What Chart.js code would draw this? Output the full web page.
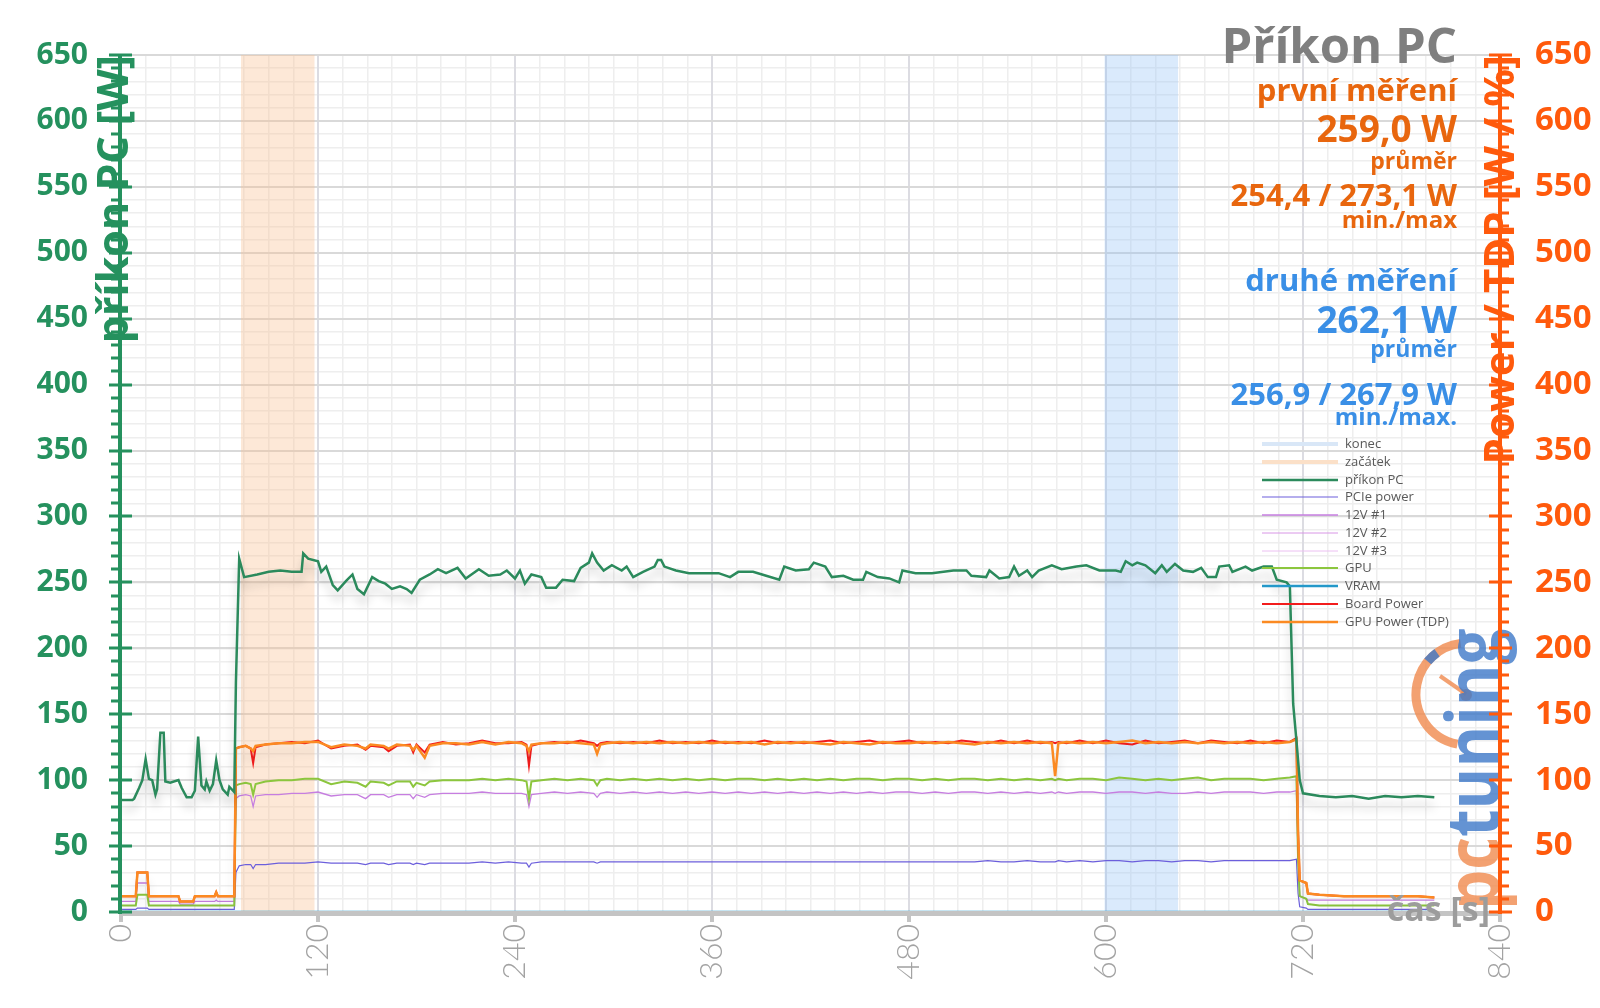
<!DOCTYPE html>
<html>
<head>
<meta charset="utf-8">
<script src="https://cdn.jsdelivr.net/npm/chart.js@4/dist/chart.umd.min.js"></script>
<style>
    html, body { margin: 0; padding: 0; background: #fff; }
    #wrap { width: 1600px; height: 1008px; }
</style>
</head>
<body>
<div id="wrap"><canvas id="powerChart" width="1600" height="1008"></canvas></div>
<script>
// Příkon PC – measured power draw over time (seconds)

// ---------------------------
// Data: příkon PC (wall power)
// ---------------------------
const pcTime = [
    0, 7, 8, 11, 13, 15, 17, 19, 21, 22,
    24, 26, 27, 30, 35, 37, 40, 43, 45, 47,
    49, 51, 52, 54, 56, 58, 60, 62, 65, 66,
    69, 70, 72, 75, 83, 90, 97, 104, 110, 111,
    114, 120, 122, 125, 129, 132, 137, 141, 144, 148,
    153, 157, 161, 165, 170, 174, 177, 182, 188, 193,
    198, 205, 210, 218, 224, 231, 235, 240, 243, 246,
    250, 256, 259, 265, 269, 276, 280, 285, 287, 290,
    294, 299, 305, 308, 312, 318, 325, 327, 329, 331,
    338, 346, 354, 364, 371, 376, 385, 393, 401, 404,
    411, 419, 422, 429, 433, 440, 446, 452, 454, 461,
    468, 474, 476, 484, 494, 507, 515, 518, 527, 529,
    535, 541, 544, 547, 552, 555, 559, 567, 573, 582,
    588, 596, 606, 609, 612, 616, 619, 624, 630, 634,
    637, 642, 647, 653, 658, 662, 667, 669, 675, 677,
    685, 689, 696, 701, 704, 710, 712, 714, 716, 718,
    720, 730, 740, 750, 760, 770, 780, 790, 800
];
const pcWatts = [
    85, 85, 86, 94, 100, 116, 101, 100, 89, 93,
    136, 136, 99, 98, 100, 94, 87, 87, 92, 133,
    96, 93, 99, 92, 97, 115, 100, 93, 89, 95,
    91, 174, 268, 254, 256, 258, 259, 258, 258, 272,
    268, 266, 258, 262, 248, 244, 251, 256, 245, 241,
    254, 251, 249, 245, 247, 245, 242, 252, 256, 260,
    257, 261, 253, 260, 255, 256, 259, 253, 259, 249,
    256, 254, 246, 246, 252, 251, 261, 265, 272, 265,
    259, 263, 259, 262, 254, 258, 262, 267, 267, 262,
    259, 257, 257, 257, 254, 258, 258, 255, 252, 262,
    259, 260, 265, 262, 254, 255, 252, 252, 258, 254,
    253, 250, 259, 257, 257, 259, 259, 255, 254, 259,
    253, 254, 262, 255, 259, 254, 259, 263, 260, 262,
    263, 259, 259, 258, 266, 263, 265, 263, 257, 263,
    258, 264, 259, 258, 261, 254, 254, 262, 263, 258,
    262, 259, 262, 262, 252, 250, 247, 158, 130, 100,
    90, 88, 87, 88, 86, 88, 87, 88, 87
];

// ---------------------------
// Data: graphics card sensors (shared time axis)
// ---------------------------
const gpuTime = [
    0, 4, 9, 10, 16, 17, 22, 30, 35, 36,
    44, 45, 50, 57, 58, 59, 64, 69, 70, 72,
    76, 79, 80.5, 82, 88, 96, 104, 112, 120, 128,
    136, 144, 149, 152, 160, 163, 168, 176, 178, 180,
    185, 188, 196, 204, 212, 220, 228, 236, 244, 247,
    248.5, 250, 256, 264, 272, 280, 288, 290, 292, 296,
    304, 312, 320, 328, 336, 344, 352, 360, 368, 376,
    384, 392, 400, 408, 416, 424, 432, 440, 448, 456,
    464, 472, 480, 488, 496, 504, 512, 520, 528, 536,
    544, 552, 560, 567, 569, 571, 576, 584, 592, 600,
    608, 616, 624, 632, 640, 648, 656, 664, 672, 680,
    688, 696, 704, 712, 716, 717, 718, 722, 723, 730,
    745, 760, 775, 790, 800
];
const tdpWatts = [
    12, 12, 12, 30, 30, 12, 12, 12, 12, 8,
    8, 12, 12, 12, 15, 12, 12, 12, 124, 125,
    126, 124, 122, 126, 127, 128, 128, 129, 129, 125,
    127, 126, 124, 127, 126, 124, 127, 126, 123, 126,
    117, 126, 128, 128, 127, 129, 127, 129, 128, 126,
    122, 127, 128, 128, 129, 128, 127, 120, 127, 128,
    129, 128, 129, 128, 129, 128, 129, 128, 129, 128,
    129, 127, 129, 128, 129, 128, 127, 129, 128, 127,
    129, 128, 128, 129, 128, 129, 128, 127, 129, 128,
    129, 128, 129, 128, 103, 128, 129, 128, 129, 128,
    129, 130, 128, 129, 128, 129, 128, 129, 128, 129,
    128, 129, 128, 129, 131, 60, 24, 22, 14, 13,
    12, 12, 12, 12, 11
];
const boardWatts = [
    12, 12, 12, 30, 30, 12, 12, 12, 12, 8,
    8, 12, 12, 12, 15, 12, 12, 12, 124, 125,
    126, 124, 113, 125, 127, 128, 129, 128, 130, 124,
    126, 127, 123, 126, 125, 122, 126, 127, 121, 127,
    121, 127, 129, 127, 128, 130, 128, 128, 129, 127,
    111, 126, 128, 129, 128, 130, 128, 126, 128, 129,
    128, 129, 128, 130, 128, 129, 128, 130, 128, 129,
    128, 130, 128, 129, 128, 129, 130, 128, 129, 130,
    128, 129, 130, 128, 129, 128, 130, 129, 128, 130,
    128, 130, 128, 129, 128, 129, 128, 130, 128, 130,
    128, 127, 130, 128, 129, 130, 128, 130, 129, 128,
    130, 128, 130, 129, 132, 60, 24, 22, 14, 13,
    12, 12, 12, 12, 11
];
const gpuCoreWatts = [
    5, 5, 5, 13, 13, 5, 5, 5, 5, 5,
    5, 5, 5, 5, 5, 5, 5, 5, 96, 97,
    98, 97, 89, 97, 99, 100, 100, 101, 101, 97,
    99, 98, 95, 99, 98, 96, 99, 99, 95, 98,
    96, 99, 100, 100, 100, 101, 100, 101, 100, 99,
    86, 99, 100, 101, 100, 101, 100, 96, 100, 101,
    100, 101, 100, 101, 100, 101, 100, 101, 100, 101,
    101, 100, 101, 100, 101, 100, 101, 100, 101, 101,
    100, 101, 101, 100, 101, 100, 101, 101, 100, 101,
    100, 101, 100, 101, 100, 101, 100, 101, 101, 100,
    102, 101, 100, 101, 100, 101, 102, 100, 101, 101,
    101, 100, 101, 102, 103, 40, 12, 10, 6, 5,
    5, 5, 5, 5, 5
];
const rail1Watts = [
    8, 8, 8, 22, 22, 8, 8, 8, 8, 6,
    6, 8, 8, 8, 9, 8, 8, 8, 86, 88,
    89, 88, 80, 88, 89, 89, 90, 90, 91, 88,
    89, 89, 86, 89, 89, 87, 89, 89, 86, 89,
    87, 89, 90, 90, 90, 91, 90, 90, 90, 89,
    80, 89, 90, 91, 90, 91, 90, 87, 90, 91,
    90, 91, 90, 91, 90, 91, 90, 91, 90, 91,
    90, 91, 90, 91, 90, 91, 90, 91, 90, 91,
    90, 91, 91, 90, 91, 90, 91, 91, 90, 91,
    90, 91, 90, 91, 90, 91, 90, 91, 91, 90,
    91, 91, 90, 91, 90, 90, 91, 90, 91, 91,
    91, 90, 91, 91, 92, 40, 12, 10, 9, 9,
    9, 9, 9, 9, 9
];
const pcieWatts = [
    2, 2, 2, 3, 3, 2, 2, 2, 2, 2,
    2, 2, 2, 2, 2, 2, 2, 2, 30, 35,
    36, 36, 33, 36, 36, 37, 37, 37, 38, 37,
    37, 37, 36, 37, 37, 36, 37, 37, 36, 37,
    36, 37, 37, 37, 37, 38, 37, 38, 37, 37,
    34, 37, 38, 38, 38, 38, 38, 37, 38, 38,
    38, 38, 38, 38, 38, 38, 38, 38, 38, 38,
    38, 38, 38, 38, 38, 38, 38, 38, 38, 38,
    38, 38, 38, 38, 38, 38, 38, 38, 39, 38,
    38, 39, 38, 38, 38, 39, 38, 39, 38, 39,
    39, 38, 39, 39, 38, 39, 39, 38, 39, 39,
    39, 39, 39, 39, 40, 14, 4, 3, 2, 2,
    2, 2, 2, 2, 2
];
// unused rails stay at zero
const flatTime = [0, 800];
const rail2Watts = [0, 0];
const rail3Watts = [0, 0];
const vramWatts = [0, 0];

// measurement windows (začátek / konec)
const startWindow = [73, 118];
const endWindow = [599, 644];
const windowTop = [650, 650];

// axis ticks
const xTicks = [0, 120, 240, 360, 480, 600, 720, 840];

// summary figures
const firstAvg = '259,0 W';
const firstMinMax = '254,4 / 273,1 W';
const secondAvg = '262,1 W';
const secondMinMax = '256,9 / 267,9 W';

const legendOrder = ['konec', 'začátek', 'příkon PC', 'PCIe power', '12V #1', '12V #2', '12V #3', 'GPU', 'VRAM', 'Board Power', 'GPU Power (TDP)'];

const GREEN = '#25915e';
const ORANGE = '#ff5a0c';
const FONT = '"Open Sans", Lato, sans-serif';
const TICK_FONT = 'Lato, "Open Sans", sans-serif';

function points(times, values) {
    return times.map((t, i) => ({ x: t, y: values[i] }));
}

function series(label, times, values, color, width, extra) {
    return Object.assign({
        label: label,
        data: points(times, values),
        borderColor: color,
        backgroundColor: color,
        borderWidth: width,
        pointRadius: 0,
        tension: 0,
        fill: false,
        yAxisID: 'y'
    }, extra || {});
}

function band(label, times, fillColor, legendColor) {
    return {
        label: label,
        data: points(times, windowTop),
        borderWidth: 0,
        borderColor: 'rgba(0,0,0,0)',
        backgroundColor: fillColor,
        pointRadius: 0,
        fill: 'origin',
        order: 10,
        legendColor: legendColor,
        legendWidth: 4,
        yAxisID: 'y'
    };
}

const datasets = [
    series('příkon PC', pcTime, pcWatts, '#2b8a5c', 2.5, { shadow: 'rgba(0,0,0,0.22)' }),
    series('GPU Power (TDP)', gpuTime, tdpWatts, '#fb8a22', 2.5, { yAxisID: 'y2', shadow: 'rgba(0,0,0,0.12)' }),
    series('Board Power', gpuTime, boardWatts, '#f21c1c', 2, { yAxisID: 'y2' }),
    series('GPU', gpuTime, gpuCoreWatts, '#8cc63e', 2, { yAxisID: 'y2' }),
    series('12V #1', gpuTime, rail1Watts, '#c67ee0', 1.3, { yAxisID: 'y2' }),
    series('PCIe power', gpuTime, pcieWatts, '#6c5fdc', 1.2, { yAxisID: 'y2' }),
    series('VRAM', flatTime, vramWatts, '#2398c9', 2.5, { yAxisID: 'y2' }),
    series('12V #2', flatTime, rail2Watts, '#d896e6', 1, { yAxisID: 'y2' }),
    series('12V #3', flatTime, rail3Watts, '#ecc0f2', 1, { yAxisID: 'y2' }),
    band('začátek', startWindow, 'rgba(250,190,140,0.35)', '#fbe0c8'),
    band('konec', endWindow, 'rgba(150,195,245,0.35)', '#d9e7f7')
];

// ---------------------------
// Plugin: soft shadow under selected lines
// ---------------------------
const lineShadow = {
    id: 'lineShadow',
    beforeDatasetDraw(chart, args) {
        const ds = chart.data.datasets[args.index];
        if (!ds.shadow) return;
        const c = chart.ctx;
        c.save();
        c.shadowColor = ds.shadow;
        c.shadowBlur = 10;
        c.shadowOffsetY = 9;
    },
    afterDatasetDraw(chart, args) {
        if (chart.data.datasets[args.index].shadow) chart.ctx.restore();
    }
};

// ruler-like axis with major and minor marks
function drawRuler(ctx, scale, x, dir, color) {
    ctx.fillStyle = color;
    ctx.fillRect(x - 2, scale.top, 4, scale.bottom - scale.top + 2);
    scale.ticks.forEach(t => {
        const y = Math.round(scale.getPixelForValue(t.value));
        if (t.value % 50 === 0) {
            ctx.fillRect(x - 11, y - 1.5, 23, 3);
        } else {
            ctx.fillRect(dir < 0 ? x - 9 : x, y - 1.5, 9, 3);
        }
    });
}

function verticalText(ctx, text, x, y, color, font) {
    ctx.save();
    ctx.translate(x, y);
    ctx.rotate(-Math.PI / 2);
    ctx.font = font;
    ctx.fillStyle = color;
    ctx.textAlign = 'right';
    ctx.textBaseline = 'alphabetic';
    ctx.fillText(text, 0, 0);
    ctx.restore();
}

// site watermark in the lower right corner
function drawWatermark(ctx) {
    ctx.save();
    ctx.globalAlpha = 0.8;
    ctx.strokeStyle = '#f08a4e';
    ctx.lineWidth = 9;
    ctx.beginPath();
    ctx.arc(1467, 694, 51, Math.PI * 0.56, Math.PI * 1.46);
    ctx.stroke();
    ctx.strokeStyle = '#3d78c8';
    ctx.beginPath();
    ctx.arc(1467, 694, 51, Math.PI * 1.22, Math.PI * 1.3);
    ctx.stroke();
    ctx.strokeStyle = '#f08a4e';
    ctx.lineWidth = 4;
    ctx.beginPath();
    ctx.moveTo(1440, 676);
    ctx.lineTo(1466, 694);
    ctx.stroke();
    ctx.fillStyle = '#f08a4e';
    ctx.beginPath();
    ctx.arc(1466, 695, 6, 0, Math.PI * 2);
    ctx.fill();

    ctx.translate(1499, 910);
    ctx.rotate(-Math.PI / 2);
    ctx.scale(0.86, 1);
    ctx.font = 'bold 74px ' + FONT;
    ctx.textAlign = 'left';
    ctx.textBaseline = 'alphabetic';
    ctx.fillStyle = '#f08a4e';
    ctx.fillText('pc', 0, 0);
    const w = ctx.measureText('pc').width;
    ctx.fillStyle = '#3d78c8';
    ctx.fillText('tuning', w, 0);
    ctx.restore();
}

// ---------------------------
// Plugin: axes, titles, notes and legend
// ---------------------------
const decorations = {
    id: 'decorations',
    afterDatasetsDraw(chart) {
        const { ctx, chartArea: a, scales } = chart;
        ctx.save();

        drawWatermark(ctx);

        // time axis line with stubs
        ctx.fillStyle = '#c4c4c4';
        ctx.fillRect(a.left - 2, a.bottom - 1, a.right - a.left + 2, 5);
        scales.x.ticks.forEach(t => {
            const px = Math.round(scales.x.getPixelForValue(t.value));
            ctx.fillRect(px - 2, a.bottom, 4, 10);
        });

        drawRuler(ctx, scales.yMinor, a.left - 1, -1, GREEN);
        drawRuler(ctx, scales.yMinor, a.right, 1, ORANGE);

        verticalText(ctx, 'příkon PC [W]', 128, a.top, GREEN, 'bold 43px ' + FONT);
        verticalText(ctx, 'Power / TDP [W / %]', 1514, a.top, ORANGE, 'bold 42px ' + FONT);

        ctx.font = 'bold 34px ' + FONT;
        ctx.fillStyle = '#9c9c9c';
        ctx.textAlign = 'right';
        ctx.textBaseline = 'alphabetic';
        ctx.fillText('čas [s]', 1490, 921);
        ctx.restore();
    },
    afterDraw(chart) {
        const ctx = chart.ctx;
        ctx.save();

        // summary block, right aligned
        const right = 1457;
        const notes = [
            ['Příkon PC', '#7f7f7f', 49, 63],
            ['první měření', '#e8660e', 31, 101],
            [firstAvg, '#e8660e', 37, 142],
            ['průměr', '#e8660e', 23, 169],
            [firstMinMax, '#e8660e', 31, 206],
            ['min./max', '#e8660e', 24, 228],
            ['druhé měření', '#3a8fe6', 31, 291],
            [secondAvg, '#3a8fe6', 37, 333],
            ['průměr', '#3a8fe6', 23, 357],
            [secondMinMax, '#3a8fe6', 31, 405],
            ['min./max.', '#3a8fe6', 24, 425]
        ];
        ctx.textAlign = 'right';
        ctx.textBaseline = 'alphabetic';
        notes.forEach(n => {
            ctx.font = 'bold ' + n[2] + 'px ' + FONT;
            ctx.fillStyle = n[1];
            ctx.fillText(n[0], right, n[3]);
        });

        // legend
        ctx.font = '13px ' + FONT;
        ctx.textAlign = 'left';
        ctx.textBaseline = 'middle';
        legendOrder.forEach((name, i) => {
            const ds = chart.data.datasets.find(d => d.label === name);
            const y = Math.round(444 + i * 17.77);
            ctx.strokeStyle = ds.legendColor || ds.borderColor;
            ctx.lineWidth = ds.legendWidth || Math.max(ds.borderWidth, 1);
            ctx.beginPath();
            ctx.moveTo(1262, y);
            ctx.lineTo(1338, y);
            ctx.stroke();
            ctx.fillStyle = '#595959';
            ctx.fillText(name, 1345, y);
        });
        ctx.restore();
    }
};

const ctx = document.getElementById('powerChart').getContext('2d');

new Chart(ctx, {
    type: 'line',
    data: { datasets: datasets },
    options: {
        responsive: false,
        animation: false,
        devicePixelRatio: 1,
        layout: { padding: { top: 55, right: 0, bottom: 0, left: 0 } },
        plugins: {
            legend: { display: false },
            tooltip: { enabled: false },
            title: { display: false }
        },
        scales: {
            xMinor: {
                type: 'linear', position: 'bottom', min: 0, max: 840,
                ticks: { display: false, stepSize: 15 },
                grid: { color: '#eeeeee', lineWidth: 1.5, drawTicks: false },
                border: { display: false },
                afterFit(s) { s.height = 0; }
            },
            yMinor: {
                type: 'linear', position: 'left', min: 0, max: 650,
                ticks: { display: false, stepSize: 10 },
                grid: { color: '#eeeeee', lineWidth: 1.5, drawTicks: false },
                border: { display: false },
                afterFit(s) { s.width = 0; }
            },
            x: {
                type: 'linear', position: 'bottom', min: 0, max: 840,
                afterBuildTicks(s) { s.ticks = xTicks.map(v => ({ value: v })); },
                ticks: {
                    autoSkip: false, maxRotation: 90, minRotation: 90, padding: 12,
                    color: '#a3a3a3',
                    font: { family: TICK_FONT, size: 32, weight: '300' }
                },
                grid: { color: '#dcdce2', lineWidth: 2, drawTicks: false },
                border: { display: false },
                afterFit(s) { s.height = 96; }
            },
            y: {
                type: 'linear', position: 'left', min: 0, max: 650,
                ticks: {
                    stepSize: 50, padding: 33, color: GREEN,
                    font: { family: FONT, size: 30, weight: 'bold' }
                },
                grid: { color: '#d9d9d9', lineWidth: 2, drawTicks: false },
                border: { display: false },
                afterFit(s) { s.width = 121; }
            },
            y2: {
                type: 'linear', position: 'right', min: 0, max: 650,
                ticks: {
                    stepSize: 50, padding: 35, crossAlign: 'near', color: ORANGE,
                    font: { family: FONT, size: 33, weight: 'bold' }
                },
                grid: { display: false, drawTicks: false },
                border: { display: false },
                afterFit(s) { s.width = 100; }
            }
        }
    },
    plugins: [lineShadow, decorations]
});
</script>
</body>
</html>
